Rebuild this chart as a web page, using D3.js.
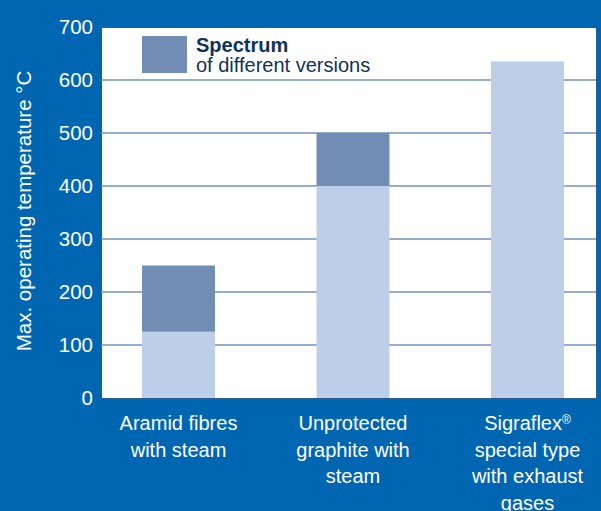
<!DOCTYPE html>
<html>
<head>
<meta charset="utf-8">
<script src="https://cdn.jsdelivr.net/npm/d3@7"></script>
<style>
html,body{margin:0;padding:0;background:#0066b2;}
svg{display:block;font-family:"Liberation Sans",Arial,Helvetica,sans-serif;}
</style>
</head>
<body>
<svg id="chart" width="601" height="511"></svg>
<script>
// Data
const categories = ["Aramid fibres\nwith steam", "Unprotected\ngraphite with\nsteam", "Sigraflex®\nspecial type\nwith exhaust\ngases"];
const baseValues = [125, 400, 635];   // lower bound (light part)
const topValues = [250, 500, 635];    // upper bound of spectrum
const yTicks = [0, 100, 200, 300, 400, 500, 600, 700];
const yTitle = "Max. operating temperature °C";
const legendTitle = "Spectrum";
const legendSub = "of different versions";

const colors = {bg:"#0066b2", plot:"#ffffff", light:"#bdcee9", dark:"#728db3", grid:"#7395b7", shadow:"#2c5b8c", legendText:"#0f3160"};

const svg = d3.select("#chart");
svg.append("rect").attr("width",601).attr("height",511).attr("fill",colors.bg);

const plot = {left:102, right:596, top:27, bottom:398};
const y = d3.scaleLinear().domain([0,700]).range([plot.bottom, plot.top]);
const x = d3.scaleBand().domain(categories).range([91.25, 614.75]).paddingInner(0.582).paddingOuter(0.291);

// shadow and plot area
svg.append("rect").attr("x",plot.left+2).attr("y",plot.top+2).attr("width",plot.right-plot.left).attr("height",plot.bottom-plot.top).attr("fill",colors.shadow);
svg.append("rect").attr("x",plot.left).attr("y",plot.top).attr("width",plot.right-plot.left).attr("height",plot.bottom-plot.top).attr("fill",colors.plot);
svg.append("line").attr("x1",plot.left).attr("x2",plot.right).attr("y1",plot.top+0.5).attr("y2",plot.top+0.5).attr("stroke",colors.shadow).attr("stroke-width",1);

// gridlines
svg.append("g").selectAll("line").data(yTicks.filter(d=>d>0 && d<700)).join("line")
  .attr("x1",plot.left-1).attr("x2",plot.right).attr("y1",d=>y(d)).attr("y2",d=>y(d))
  .attr("stroke",colors.grid).attr("stroke-width",1.6);

// bars
const bars = svg.append("g");
bars.selectAll("rect.light").data(categories).join("rect").attr("class","light")
  .attr("x",d=>x(d)).attr("width",x.bandwidth())
  .attr("y",(d,i)=>y(baseValues[i])).attr("height",(d,i)=>y(0)-y(baseValues[i]))
  .attr("fill",colors.light);
bars.selectAll("rect.dark").data(categories).join("rect").attr("class","dark")
  .attr("x",d=>x(d)).attr("width",x.bandwidth())
  .attr("y",(d,i)=>y(topValues[i])).attr("height",(d,i)=>y(baseValues[i])-y(topValues[i]))
  .attr("fill",colors.dark);

// y tick labels
svg.append("g").selectAll("text").data(yTicks).join("text")
  .attr("x",93).attr("y",d=>y(d)).attr("dy","0.36em")
  .attr("text-anchor","end").attr("fill","#fff").attr("font-size",20.5)
  .text(d=>d);

// y title
svg.append("text").attr("transform","translate(24,211) rotate(-90)")
  .attr("text-anchor","middle").attr("dy","0.36em").attr("fill","#fff").attr("font-size",20.5)
  .text(yTitle);

// x labels
const xl = svg.append("g").selectAll("text").data(categories).join("text")
  .attr("x",d=>x(d)+x.bandwidth()/2).attr("y",423).attr("text-anchor","middle")
  .attr("fill","#fff").attr("font-size",20);
xl.each(function(d){
  const t = d3.select(this);
  d.split("\n").forEach((line,i)=>{
    const ts = t.append("tspan").attr("x",t.attr("x")).attr("y",423+i*26.6).attr("dy","0.36em");
    if(line.includes("®")){
      const parts = line.split("®");
      ts.text(parts[0]);
      t.append("tspan").attr("font-size",12).attr("dy","-0.5em").text("®");
    } else ts.text(line);
  });
});

// legend
svg.append("rect").attr("x",142).attr("y",36).attr("width",45).attr("height",37).attr("fill",colors.dark);
svg.append("text").attr("x",196).attr("y",52).attr("fill",colors.legendText).attr("font-size",20).attr("font-weight","bold").text(legendTitle);
svg.append("text").attr("x",196).attr("y",72).attr("fill",colors.legendText).attr("font-size",20).text(legendSub);
</script>
</body>
</html>
